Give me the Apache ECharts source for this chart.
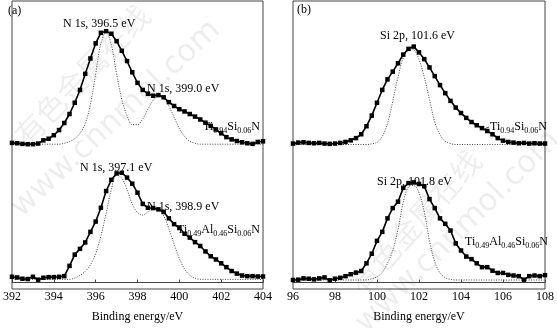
<!DOCTYPE html>
<html><head><meta charset="utf-8">
<script src="https://cdn.jsdelivr.net/npm/echarts@6/dist/echarts.min.js"></script>
<style>html,body{margin:0;padding:0;background:#fff}#c{width:557px;height:328px}</style>
</head><body><div id="c"></div>
<script>
// ---- data (intensity in arbitrary units) ----
const energyA = [392,392.25,392.5,392.75,393,393.25,393.5,393.75,394,394.25,394.5,394.75,395,395.25,395.5,395.75,396,396.25,396.5,396.75,397,397.25,397.5,397.75,398,398.25,398.5,398.75,399,399.25,399.5,399.75,400,400.25,400.5,400.75,401,401.25,401.5,401.75,402,402.25,402.5,402.75,403,403.25,403.5,403.75,404];
const energyB = [96,96.25,96.5,96.75,97,97.25,97.5,97.75,98,98.25,98.5,98.75,99,99.25,99.5,99.75,100,100.25,100.5,100.75,101,101.25,101.5,101.75,102,102.25,102.5,102.75,103,103.25,103.5,103.75,104,104.25,104.5,104.75,105,105.25,105.5,105.75,106,106.25,106.5,106.75,107,107.25,107.5,107.75,108];

// (a) N 1s, Ti0.94Si0.06N
const n1sTiSi = [5,4,2,1,1,3,13,18,29,45,67,95,130,170,220,268,315,348,353,345,322,292,260,225,192,170,158,152,154,147,132,120,110,103,95,87,78,68,58,47,35,23,16,11,7,4,2,8,10];
const n1sTiSiFit = [1,1,1,1,1,1,1,1,1,1,4,9,18,35,65,125,220,315,350,310,220,140,90,62,62,80,110,138,150,145,120,85,50,25,10,4,1,1,1,1,1,1,1,1,1,1,1,1,1];
// (a) N 1s, Ti0.49Al0.46Si0.06N
const n1sTiAlSi = [18,16,12,11,18,9,15,17,17,18,20,52,87,105,125,158,190,233,285,320,340,342,327,308,280,245,233,232,228,220,200,182,170,152,140,126,114,97,82,72,60,48,36,28,22,20,20,19,19];
const n1sTiAlSiFit = [10,10,10,10,10,10,10,10,10,10,10,10,14,22,35,55,90,145,215,290,335,325,290,245,218,210,220,228,227,208,168,120,75,42,23,14,10,10,10,10,10,10,10,10,10,10,10,10,10];
// (b) Si 2p, Ti0.94Si0.06N
const si2pTiSi = [3,6,7,5,4,5,3,2,3,5,8,13,20,32,57,90,130,170,203,227,253,280,298,305,287,266,240,213,185,160,136,115,98,83,70,60,51,42,32,20,12,8,6,4,5,3,4,3,3];
const si2pTiSiFit = [0,0,0,0,0,0,0,0,0,0,0,0,0,0,0,2,7,25,65,135,210,270,298,295,265,210,140,70,30,10,3,0,0,0,0,0,0,0,0,0,0,0,0,0,0,0,0,0,0];
// (b) Si 2p, Ti0.49Al0.46Si0.06N
const si2pTiAlSi = [8,9,13,12,10,13,16,7,12,15,20,26,31,36,60,90,130,158,200,232,252,295,310,312,307,300,260,232,200,183,162,122,100,81,73,60,48,48,37,30,30,24,22,20,9,20,22,20,23];
const si2pTiAlSiFit = [8,8,8,8,8,8,8,8,8,8,8,8,8,8,8,12,18,32,60,100,165,250,298,302,280,220,130,65,30,15,10,8,8,8,8,8,8,8,8,8,8,8,8,8,8,8,8,8,8];

const OFFSET_TOP = 430;   // vertical stacking offset of upper spectra
const xTicksA = [392,394,396,398,400,402,404];
const xTicksB = [96,98,100,102,104,106,108];

const SERIF = "'Liberation Serif','Times New Roman',serif";
const pair = (xs, ys, off) => xs.map((x, i) => [x, ys[i] + off]);

function dataSeries(idx, xs, ys, off) {
  return { type:'line', xAxisIndex:idx, yAxisIndex:idx, data:pair(xs, ys, off),
    symbol:'rect', symbolSize:4.5, showSymbol:true, animation:false,
    itemStyle:{color:'#000'}, lineStyle:{color:'#000', width:1.6}, z:3 };
}
function fitSeries(idx, xs, ys, off) {
  return { type:'line', xAxisIndex:idx, yAxisIndex:idx, data:pair(xs, ys, off),
    symbol:'none', smooth:0.35, animation:false,
    lineStyle:{color:'#444', width:1, type:[1,1.5]}, z:2 };
}
function xAxis(idx, ticks) {
  return { type:'value', gridIndex:idx, min:ticks[0], max:ticks[ticks.length-1], interval:2,
    name:'Binding energy/eV', nameLocation:'middle', nameGap:22,
    nameTextStyle:{fontFamily:SERIF, fontSize:12, color:'#000'},
    axisLine:{show:true, lineStyle:{color:'#444', width:1}},
    axisTick:{show:true, inside:true, length:3, lineStyle:{color:'#444'}},
    axisLabel:{fontFamily:SERIF, fontSize:12, color:'#000', margin:2},
    splitLine:{show:false} };
}
function yAxis(idx) {
  return { type:'value', gridIndex:idx, min:-20, max:877,
    axisLine:{show:false}, axisTick:{show:false}, axisLabel:{show:false}, splitLine:{show:false} };
}
const richF = {
  n:{fontFamily:SERIF, fontSize:12, color:'#000', lineHeight:14, verticalAlign:'top'},
  s:{fontFamily:SERIF, fontSize:8, color:'#000', lineHeight:8, verticalAlign:'bottom'}
};
function txt(x, y, text, rich) {
  const st = { x:x, y:y, text:text, fill:'#000', font:'12px ' + SERIF, textAlign:'left', textVerticalAlign:'middle' };
  if (rich) st.rich = richF;
  return { type:'text', z:10, style:st };
}
function wm(x, y, text, size, rot, fam) {
  return { type:'text', x:x, y:y, rotation:rot, z:0, silent:true,
    style:{ text:text, fill:'rgba(0,0,0,0.07)', font:size + 'px ' + fam, textAlign:'center', textVerticalAlign:'middle' } };
}

const chart = echarts.init(document.getElementById('c'), null, {renderer:'canvas'});
chart.setOption({
  backgroundColor:'#fff',
  animation:false,
  grid:[
    {left:7, right:294, top:1, bottom:28, show:true, borderColor:'#444', borderWidth:1, backgroundColor:'transparent'},
    {left:293, right:8, top:1, bottom:28, show:true, borderColor:'#444', borderWidth:1, backgroundColor:'transparent'}
  ],
  xAxis:[xAxis(0, xTicksA), xAxis(1, xTicksB)],
  yAxis:[yAxis(0), yAxis(1)],
  series:[
    fitSeries(0, energyA, n1sTiSiFit, OFFSET_TOP),
    fitSeries(0, energyA, n1sTiAlSiFit, 0),
    dataSeries(0, energyA, n1sTiSi, OFFSET_TOP),
    dataSeries(0, energyA, n1sTiAlSi, 0),
    fitSeries(1, energyB, si2pTiSiFit, OFFSET_TOP),
    fitSeries(1, energyB, si2pTiAlSiFit, 0),
    dataSeries(1, energyB, si2pTiSi, OFFSET_TOP),
    dataSeries(1, energyB, si2pTiAlSi, 0)
  ],
  graphic:[
    wm(82, 75, '有色金属在线', 30, 0.81, "'Noto Sans CJK SC'"),
    wm(116, 119, 'www.cnnmol.com', 31, 0.75, "'DejaVu Sans',sans-serif"),
    wm(415, 222, '有色金属在线', 30, 0.84, "'Noto Sans CJK SC'"),
    wm(458, 232, 'www.cnnmol.com', 31, 0.78, "'DejaVu Sans',sans-serif"),
    txt(8, 11, '(a)'),
    txt(297, 10, '(b)'),
    txt(63, 24, 'N 1s, 396.5 eV'),
    txt(147, 89, 'N 1s, 399.0 eV'),
    txt(203, 128, '{n|Ti}{s|0.94}{n|Si}{s|0.06}{n|N}', true),
    txt(80, 168, 'N 1s, 397.1 eV'),
    txt(147, 207, 'N 1s, 398.9 eV'),
    txt(177, 231, '{n|Ti}{s|0.49}{n|Al}{s|0.46}{n|Si}{s|0.06}{n|N}', true),
    txt(380, 36, 'Si 2p, 101.6 eV'),
    txt(490, 128, '{n|Ti}{s|0.94}{n|Si}{s|0.06}{n|N}', true),
    {type:'line', z:10, shape:{x1:484, y1:129, x2:489, y2:127}, style:{stroke:'#444', lineWidth:1}},
    txt(377, 182, 'Si 2p, 101.8 eV'),
    txt(465, 243, '{n|Ti}{s|0.49}{n|Al}{s|0.46}{n|Si}{s|0.06}{n|N}', true)
  ]
});
</script></body></html>
